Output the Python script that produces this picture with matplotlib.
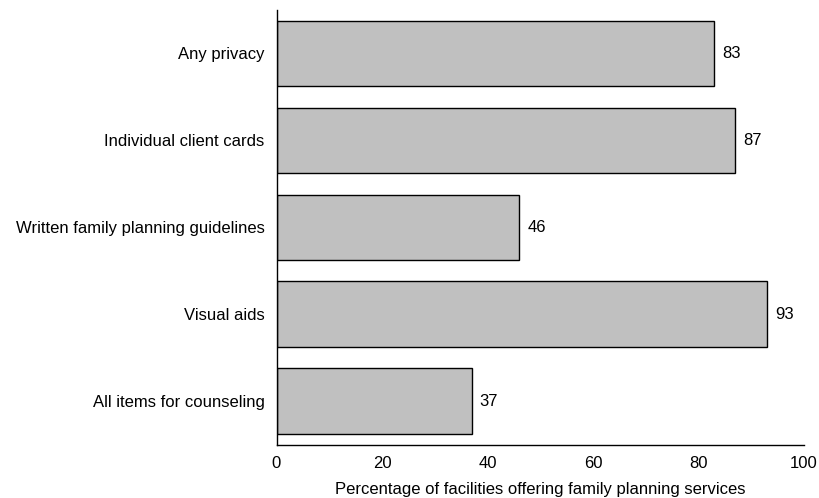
import matplotlib
matplotlib.use("Agg")
import matplotlib.pyplot as plt

categories = ["Any privacy", "Individual client cards", "Written family planning guidelines",
              "Visual aids", "All items for counseling"]
values = [83, 87, 46, 93, 37]
xticks = [0, 20, 40, 60, 80, 100]

plt.rcParams['font.family'] = ['Liberation Sans', 'DejaVu Sans']

fig = plt.figure(figsize=(8.2, 4.98), dpi=100)
ax = fig.add_axes([276.5/820, 1-444.5/498, (804-276.5)/820, (444.5-10)/498])

y = list(range(len(categories)))
ax.barh(y, values, height=0.753, color="#c0c0c0", edgecolor="black", linewidth=1)
for yi, v in zip(y, values):
    ax.annotate(f"{v}", xy=(v, yi), xytext=(5.8, 0), textcoords="offset points",
                va="center", ha="left", fontsize=12)

ax.set_yticks(y)
ax.set_yticklabels(categories, fontsize=12)
ax.set_ylim(4.5, -0.5)
ax.set_xlim(0, 100)
ax.set_xticks(xticks)
ax.set_xticklabels([str(t) for t in xticks], fontsize=12)
ax.tick_params(axis='x', length=0, pad=8)
ax.tick_params(axis='y', length=0, pad=8.6)
ax.set_xlabel("Percentage of facilities offering family planning services", fontsize=12, labelpad=8)
for s in ["top", "right"]:
    ax.spines[s].set_visible(False)
ax.spines["left"].set_linewidth(1)
ax.spines["bottom"].set_linewidth(1)

fig.savefig("out.png", dpi=100)
